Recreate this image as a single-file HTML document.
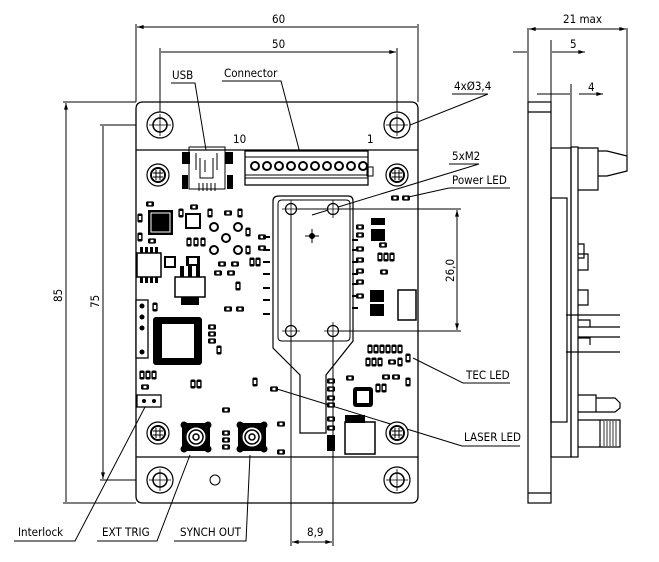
<!DOCTYPE html>
<html><head><meta charset="utf-8"><style>
html,body{margin:0;padding:0;background:#fff}
svg{display:block}
text{font-family:"DejaVu Sans Condensed","Liberation Sans Narrow","Liberation Sans",sans-serif;font-size:11.5px;fill:#000}
</style></head><body>
<svg width="659" height="562" viewBox="0 0 659 562" xmlns="http://www.w3.org/2000/svg">
<defs>
<marker id="a" viewBox="0 0 10 6" refX="10" refY="3" markerWidth="8" markerHeight="4" orient="auto-start-reverse"><path d="M0,0 L10,3 L0,6z" fill="#000"/></marker>
<g id="hole"><circle r="13" fill="#fff" stroke="#000" stroke-width="1.2"/><circle r="7" fill="none" stroke="#000" stroke-width="1.5"/><path d="M-11,0H11M0,-11V11" stroke="#000" stroke-width="0.8"/></g>
<g id="m2"><circle r="11" fill="#fff" stroke="#000" stroke-width="1.2"/><circle r="7" fill="none" stroke="#000" stroke-width="2"/><path d="M-5,-2H5M-5,2H5M-2,-5V5M2,-5V5" stroke="#000" stroke-width="1"/></g>
<g id="mh"><circle r="5.5" fill="#fff" stroke="#000" stroke-width="1.2"/><path d="M-9,0H9M0,-9V9" stroke="#000" stroke-width="0.8"/></g>
<g id="sma"><rect x="-14" y="-14" width="28" height="28" rx="4" fill="#000"/><circle cx="-12" cy="-12" r="3.5" fill="#000"/><circle cx="12" cy="-12" r="3.5" fill="#000"/><circle cx="-12" cy="12" r="3.5" fill="#000"/><circle cx="12" cy="12" r="3.5" fill="#000"/><circle r="10" fill="#fff" stroke="#000"/><circle r="7" fill="none" stroke="#000" stroke-width="1.5"/><circle r="3" fill="none" stroke="#000" stroke-width="1.5"/></g>
<g id="r"><rect x="-4" y="-2.6" width="8" height="5.2" rx="1.5" fill="#000"/><rect x="-1.5" y="-1.2" width="3" height="2.4" fill="#fff"/></g>
<g id="rv"><rect x="-2.6" y="-4.5" width="5.2" height="9" rx="1.5" fill="#000"/><rect x="-1.2" y="-2" width="2.4" height="4" fill="#fff"/></g>
</defs>
<g fill="none" stroke="#000" stroke-width="1">
<path d="M143,102H411Q418,102 418,109V496Q418,503 411,503H143Q136,503 136,496V109Q136,102 143,102Z" stroke-width="1.3"/>
<path d="M136,150H418M136,457H418" stroke-width="1.3"/>
<path d="M279,196H348Q353,196 353,201V341L326,375V433H300V375L273,348V201Q273,196 279,196Z" stroke-width="1.2"/>
<path d="M282,200H346Q350,200 350,204V337Q350,341 346,341H282Q278,341 278,337V204Q278,200 282,200Z"/>
<path d="M136,102V24M418,102V24M160,125V48M397,125V48"/>
<path d="M137,27H417M161,52H396" marker-start="url(#a)" marker-end="url(#a)"/>
<path d="M136,102H63M136,125H100M136,480H100M136,503H63"/>
<path d="M66,103V502M103,126V479" marker-start="url(#a)" marker-end="url(#a)"/>
<path d="M291,209H461M333,331H461"/>
<path d="M457,210V330" marker-start="url(#a)" marker-end="url(#a)"/>
<path d="M291,210V546M333,331V546"/>
<path d="M292,542H332" marker-start="url(#a)" marker-end="url(#a)"/>
<path d="M171,83H195L206,150M222,81H281L305,172M452,94H488M488,94L390,133M449,164H479L312,215M449,188H510M449,188L404,198M463,383H510M463,383L413,358M462,446H520M462,446L277,389"/>
<path d="M14,541H75L145,407M97,541H157L190,455M174,541H246L250,455"/>
</g>
<use href="#hole" x="160" y="125"/><use href="#hole" x="397" y="125"/><use href="#hole" x="160" y="480"/><use href="#hole" x="397" y="480"/>
<use href="#m2" x="158" y="175"/><use href="#m2" x="397" y="175"/><use href="#m2" x="158" y="433"/><use href="#m2" x="397" y="433"/>
<use href="#mh" x="291" y="209"/><use href="#mh" x="333" y="209"/><use href="#mh" x="291" y="331"/><use href="#mh" x="333" y="331"/>
<circle cx="312" cy="236" r="3" fill="#000"/><path d="M305,236H319M312,229V243" stroke="#000"/>
<circle cx="215" cy="480" r="5" fill="none" stroke="#000"/>
<g fill="#000"><rect x="182" y="152" width="8" height="12"/><rect x="225" y="152" width="8" height="12"/><rect x="182" y="175" width="6" height="14"/><rect x="227" y="175" width="6" height="14"/></g>
<rect x="189" y="147" width="36" height="42" fill="none" stroke="#000"/>
<path d="M200,158V178H213V158M205,160V172M196,153V170M217,153V170M199,183V191M203,183V191M207,183V191M211,183V191M215,183V191" stroke="#000" fill="none"/>
<rect x="245" y="151" width="123" height="34" fill="#fff" stroke="#000" stroke-width="1.3"/>
<path d="M245,157H368M245,175H368M245,178H368" stroke="#000"/>
<g fill="#fff" stroke="#000" stroke-width="2">
<circle cx="255" cy="166" r="4"/><circle cx="267" cy="166" r="4"/><circle cx="279" cy="166" r="4"/><circle cx="291" cy="166" r="4"/><circle cx="303" cy="166" r="4"/><circle cx="315" cy="166" r="4"/><circle cx="327" cy="166" r="4"/><circle cx="339" cy="166" r="4"/><circle cx="351" cy="166" r="4"/><circle cx="363" cy="166" r="4"/></g>
<rect x="367" y="167" width="6" height="9" fill="none" stroke="#000"/>
<rect x="148" y="210" width="25" height="25" fill="#000"/><rect x="151" y="213" width="19" height="19" fill="none" stroke="#fff"/>
<rect x="153" y="317" width="49" height="48" rx="3" fill="#000"/><rect x="162" y="324" width="32" height="34" fill="#fff"/>
<rect x="353" y="387" width="20" height="20" rx="3" fill="#000"/><rect x="357" y="391" width="12" height="12" fill="#fff"/>
<rect x="137" y="253" width="24" height="24" fill="#fff" stroke="#000" stroke-width="1.5"/>
<g fill="#000"><rect x="140" y="247" width="3" height="6"/><rect x="145" y="247" width="3" height="6"/><rect x="150" y="247" width="3" height="6"/><rect x="155" y="247" width="3" height="6"/><rect x="140" y="277" width="3" height="6"/><rect x="145" y="277" width="3" height="6"/><rect x="150" y="277" width="3" height="6"/><rect x="155" y="277" width="3" height="6"/></g>
<rect x="164" y="256" width="12" height="12" fill="#000"/><rect x="166" y="258" width="8" height="8" fill="#fff"/>
<rect x="186" y="256" width="14" height="10" fill="#000"/><rect x="189" y="258" width="8" height="6" fill="#fff"/>
<rect x="175" y="277" width="30" height="20" fill="#fff" stroke="#000" stroke-width="1.5"/>
<rect x="181" y="297" width="18" height="8" fill="#000"/>
<g fill="#000"><rect x="180" y="266" width="4" height="11"/><rect x="188" y="266" width="4" height="11"/><rect x="196" y="266" width="4" height="11"/></g>
<g fill="#fff" stroke="#000" stroke-width="1.3"><rect x="136" y="300" width="12" height="58"/><rect x="137" y="395" width="24" height="12"/></g>
<g fill="#000"><circle cx="142" cy="306" r="2.5"/><circle cx="142" cy="317" r="2.5"/><circle cx="142" cy="328" r="2.5"/><circle cx="142" cy="352" r="2.5"/><circle cx="144" cy="401" r="2"/><circle cx="154" cy="401" r="2"/></g>
<use href="#sma" x="196" y="437"/><use href="#sma" x="252" y="437"/>
<g fill="none" stroke="#000" stroke-width="2"><circle cx="214" cy="227" r="4"/><circle cx="238" cy="227" r="4"/><circle cx="226" cy="238" r="4"/><circle cx="214" cy="250" r="4"/><circle cx="238" cy="250" r="4"/></g>
<rect x="186" y="214" width="14" height="14" fill="none" stroke="#000" stroke-width="2"/>
<rect x="345" y="422" width="30" height="32" fill="none" stroke="#000" stroke-width="1.5"/>
<rect x="398" y="290" width="18" height="30" fill="none" stroke="#000" stroke-width="1.5"/>
<g>
<use href="#r" x="150" y="204"/><use href="#rv" x="140" y="218"/><use href="#rv" x="140" y="237"/><use href="#r" x="152" y="241"/>
<use href="#rv" x="181" y="213"/><use href="#r" x="194" y="207"/><use href="#rv" x="189" y="242"/><use href="#rv" x="196" y="242"/><use href="#rv" x="203" y="242"/>
<use href="#rv" x="210" y="213"/><use href="#r" x="228" y="213"/><use href="#rv" x="240" y="213"/>
<use href="#rv" x="248" y="232"/><use href="#rv" x="248" y="250"/><use href="#r" x="262" y="237"/><use href="#r" x="262" y="248"/>
<use href="#r" x="222" y="264"/><use href="#r" x="235" y="264"/><use href="#rv" x="252" y="262"/><use href="#rv" x="258" y="262"/>
<use href="#r" x="218" y="273"/><use href="#r" x="231" y="273"/><use href="#rv" x="238" y="286"/><use href="#r" x="228" y="309"/><use href="#r" x="240" y="309"/>
<use href="#rv" x="155" y="307"/><use href="#r" x="212" y="327"/><use href="#r" x="212" y="334"/><use href="#r" x="212" y="341"/><use href="#rv" x="219" y="350"/>
<use href="#rv" x="142" y="375"/><use href="#rv" x="148" y="375"/><use href="#rv" x="154" y="375"/><use href="#r" x="145" y="387"/>
<use href="#rv" x="193" y="384"/><use href="#rv" x="199" y="384"/>
<use href="#rv" x="255" y="382"/><use href="#r" x="274" y="389"/>
<use href="#r" x="226" y="410"/><use href="#r" x="226" y="433"/><use href="#r" x="226" y="440"/><use href="#r" x="226" y="447"/>
<use href="#r" x="281" y="424"/><use href="#r" x="281" y="452"/>
<use href="#r" x="395" y="198"/><use href="#r" x="406" y="198"/>
<use href="#r" x="360" y="227"/><use href="#r" x="360" y="235"/><use href="#r" x="360" y="249"/><use href="#r" x="360" y="260"/><use href="#r" x="360" y="271"/><use href="#r" x="360" y="282"/><use href="#r" x="360" y="296"/>
<use href="#r" x="383" y="245"/><use href="#rv" x="386" y="257"/><use href="#rv" x="392" y="257"/><use href="#rv" x="380" y="257"/><use href="#r" x="384" y="272"/>
<use href="#rv" x="370" y="349"/><use href="#rv" x="376" y="349"/><use href="#rv" x="382" y="349"/><use href="#rv" x="388" y="349"/><use href="#rv" x="394" y="349"/><use href="#rv" x="400" y="349"/><use href="#rv" x="408" y="358"/>
<use href="#rv" x="368" y="362"/><use href="#rv" x="374" y="362"/><use href="#rv" x="380" y="362"/><use href="#r" x="392" y="362"/><use href="#rv" x="400" y="362"/>
<use href="#r" x="350" y="378"/><use href="#r" x="386" y="377"/><use href="#r" x="396" y="377"/><use href="#rv" x="378" y="388"/><use href="#rv" x="384" y="388"/><use href="#rv" x="408" y="382"/>
<use href="#r" x="331" y="381"/><use href="#r" x="331" y="389"/><use href="#r" x="331" y="398"/><use href="#r" x="331" y="405"/><use href="#r" x="331" y="419"/><use href="#r" x="331" y="428"/>
</g>
<g fill="#000"><rect x="371" y="218" width="14" height="7"/><rect x="371" y="229" width="14" height="12"/><rect x="370" y="290" width="14" height="12"/><rect x="370" y="304" width="14" height="12"/><rect x="327" y="435" width="8" height="16"/><rect x="345" y="415" width="20" height="8"/></g>
<g stroke="#000" stroke-width="2"><path d="M263,237H270M263,250H270M263,262H270M263,274H270M263,288H270M263,300H270M263,314H270M352,240H358M352,250H358M352,262H358M352,274H358M352,284H358M352,296H358M352,308H358"/></g>
<g fill="none" stroke="#000" stroke-width="1.2">
<rect x="528" y="102" width="23" height="401"/><path d="M528,112H551M528,493H551"/>
<rect x="551" y="148" width="20" height="309"/><rect x="551" y="198" width="16" height="224"/>
<rect x="571" y="147" width="7" height="310"/>
<path d="M578,148H598V190H578M598,151H607L627,156V171L607,176H598"/>
<path d="M578,244H584V258H578M578,254H588V270H578M578,290H588V305H578M578,320H590V327M578,338H590V345M566,315H620M578,327H620M578,337H620M566,352H620M578,395H596V412H578M596,398H615L620,403V408L615,412H596M578,420H600V447H578M600,420H620V447H600"/>
</g>
<g stroke="#000" stroke-width="0.8"><path d="M604,421V446M607,421V446M610,421V446M613,421V446M616,421V446"/></g>
<g fill="none" stroke="#000"><path d="M528,102V28M627,156V28M551,102V40M571,148V84"/>
<path d="M529,29H626" marker-start="url(#a)" marker-end="url(#a)"/>
<path d="M513,52H527M552,52H585" marker-end="url(#a)"/><path d="M537,94H570M579,94H603" marker-end="url(#a)"/></g>
<text x="272" y="23">60</text><text x="272" y="48">50</text>
<text x="172" y="79">USB</text><text x="224" y="77">Connector</text>
<text x="233" y="143">10</text><text x="367" y="143">1</text>
<text x="454" y="90">4xØ3,4</text><text x="452" y="160">5xM2</text><text x="452" y="184">Power LED</text>
<text x="466" y="379">TEC LED</text><text x="464" y="441">LASER LED</text>
<text x="18" y="536">Interlock</text><text x="102" y="536">EXT TRIG</text><text x="180" y="536">SYNCH OUT</text>
<text x="307" y="536">8,9</text><text x="563" y="23">21 max</text><text x="570" y="48">5</text><text x="588" y="91">4</text>
<text transform="translate(62,302) rotate(-90)">85</text><text transform="translate(99,308) rotate(-90)">75</text>
<text transform="translate(454,282) rotate(-90)">26,0</text>
</svg>
</body></html>
